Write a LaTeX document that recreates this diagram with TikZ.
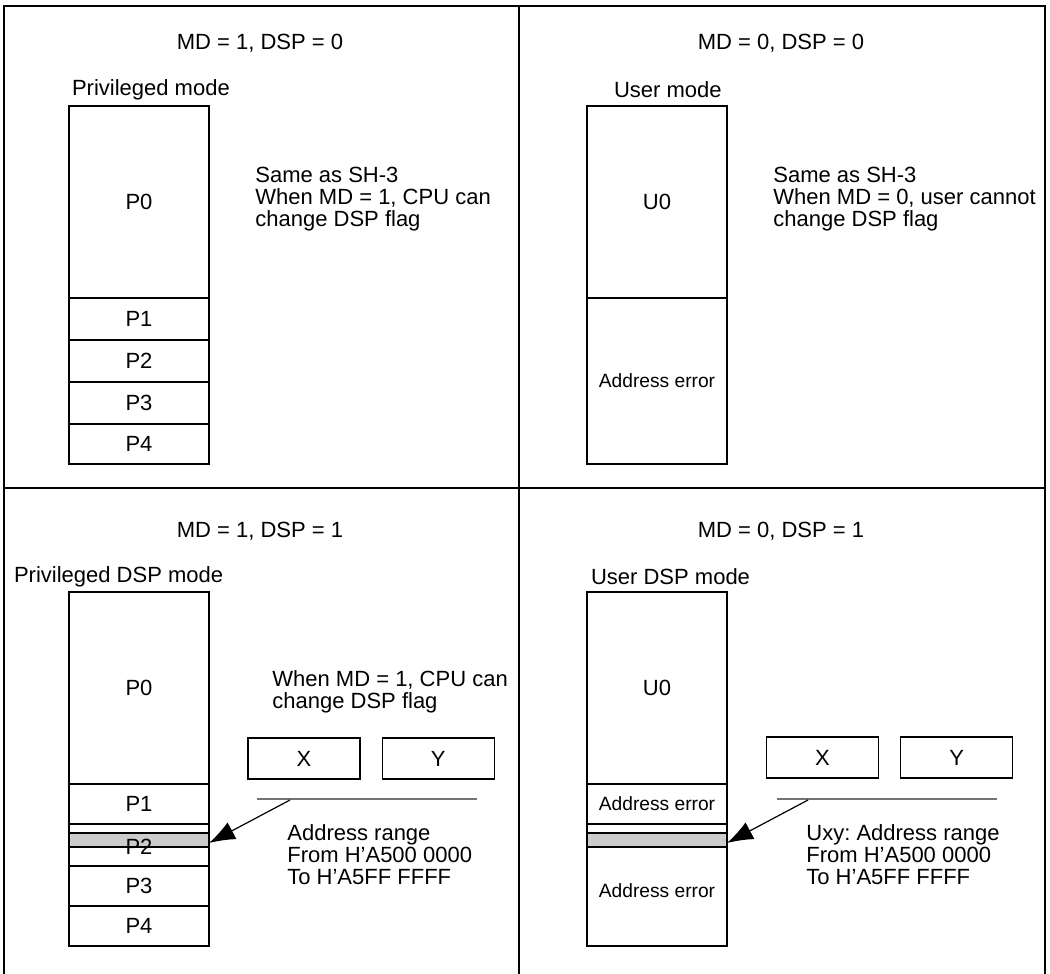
\documentclass[tikz,border=0pt]{standalone}
\usepackage{fontspec}
\setmainfont{Liberation Sans}
\usetikzlibrary{positioning,arrows.meta,calc}

\begin{document}
\begin{tikzpicture}[x=0.5pt,y=-0.5pt, every node/.style={font=\fontsize{11}{11}\selectfont},
    seg/.style={draw,line width=0.6pt,minimum width=70pt,inner sep=0pt,outer sep=0pt},
    band/.style={draw,line width=0.6pt,fill=black!20,minimum width=70pt,minimum height=7pt,inner sep=0pt,outer sep=0pt},
    reg/.style={draw,line width=0.6pt,minimum width=56pt,minimum height=20.5pt,inner sep=0pt},
    note/.style={align=left,anchor=north west,inner sep=0pt},
    small/.style={font=\fontsize{9.6}{11}\selectfont}]
    \useasboundingbox (0,0) rectangle (1050,974);
    % frame
    \draw[line width=0.75pt] (4,974) -- (4,6) -- (1045,6) -- (1045,974);
    \draw[line width=0.75pt] (519,6) -- (519,974) (4,488) -- (1045,488);

    % MD = 1, DSP = 0
    \node (t1) at (260,43) {MD = 1, DSP = 0};
    \node[anchor=west] (m1) at (65,90) {Privileged mode};
    \node[seg,anchor=north,minimum height=96pt] (pa0) at (139,106) {P0};
    \node[seg,below=0pt of pa0,minimum height=21pt] (pa1) {P1};
    \node[seg,below=0pt of pa1,minimum height=21pt] (pa2) {P2};
    \node[seg,below=0pt of pa2,minimum height=21pt] (pa3) {P3};
    \node[seg,below=0pt of pa3,minimum height=20pt] (pa4) {P4};
    \node[note] (n1) at (255,167) {Same as SH-3\\When MD = 1, CPU can\\change DSP flag};

    % MD = 0, DSP = 0
    \node (t2) at (781,43) {MD = 0, DSP = 0};
    \node[anchor=west] (m2) at (607,90) {User mode};
    \node[seg,anchor=north,minimum height=96pt] (ua0) at (657,106) {U0};
    \node[seg,below=0pt of ua0,minimum height=83pt,small] (ua1) {Address error};
    \node[note] (n2) at (773,167) {Same as SH-3\\When MD = 0, user cannot\\change DSP flag};

    % MD = 1, DSP = 1
    \node (t3) at (260,531) {MD = 1, DSP = 1};
    \node[anchor=west] (m3) at (7,577) {Privileged DSP mode};
    \node[seg,anchor=north,minimum height=96pt] (pb0) at (139,592) {P0};
    \node[seg,below=0pt of pb0,minimum height=20pt] (pb1) {P1};
    \node[seg,below=0pt of pb1,minimum height=21pt] (pb2) {};
    \node[seg,below=0pt of pb2,minimum height=20pt] (pb3) {P3};
    \node[seg,below=0pt of pb3,minimum height=20pt] (pb4) {P4};
    \node[band,below=4.5pt of pb1] (bnd1) {};
    \node at ($(pb2)+(0,2)$) {P2};
    \node[note] (n3) at (272,670) {When MD = 1, CPU can\\change DSP flag};
    \node[reg] (x1) at (304,758.5) {X};
    \node[reg,right=10.5pt of x1] (y1) {Y};
    \coordinate (r1a) at (257,799);
    \coordinate (r1b) at (477,799);
    \draw[black!55,line width=0.6pt] (r1a) -- (r1b);
    \draw[line width=0.6pt,-{Latex[length=13pt,width=9.5pt]}] ($(r1a)+(33,1)$) -- ($(bnd1.east)+(0,3)$);
    \node[note] (n4) at (287,824) {Address range\\From H'A500 0000\\To H'A5FF FFFF};

    % MD = 0, DSP = 1
    \node (t4) at (781,531) {MD = 0, DSP = 1};
    \node[anchor=west] (m4) at (584,577) {User DSP mode};
    \node[seg,anchor=north,minimum height=96pt] (ub0) at (657,592) {U0};
    \node[seg,below=0pt of ub0,minimum height=20pt,small] (ub1) {Address error};
    \node[seg,below=0pt of ub1,minimum height=4.5pt] (ub2) {};
    \node[band,below=0pt of ub2] (bnd2) {};
    \node[seg,below=0pt of bnd2,minimum height=49.5pt,small,text depth=6pt] (ub3) {Address error};
    \node[reg] (x2) at (822.5,757.5) {X};
    \node[reg,right=10.5pt of x2] (y2) {Y};
    \coordinate (r2a) at (777,799);
    \coordinate (r2b) at (997,799);
    \draw[black!55,line width=0.6pt] (r2a) -- (r2b);
    \draw[line width=0.6pt,-{Latex[length=13pt,width=9.5pt]}] ($(r2a)+(31,1)$) -- ($(bnd2.east)+(0,3)$);
    \node[note] (n5) at (806,824) {Uxy:\ Address range\\From H'A500 0000\\To H'A5FF FFFF};
\end{tikzpicture}
\end{document}
